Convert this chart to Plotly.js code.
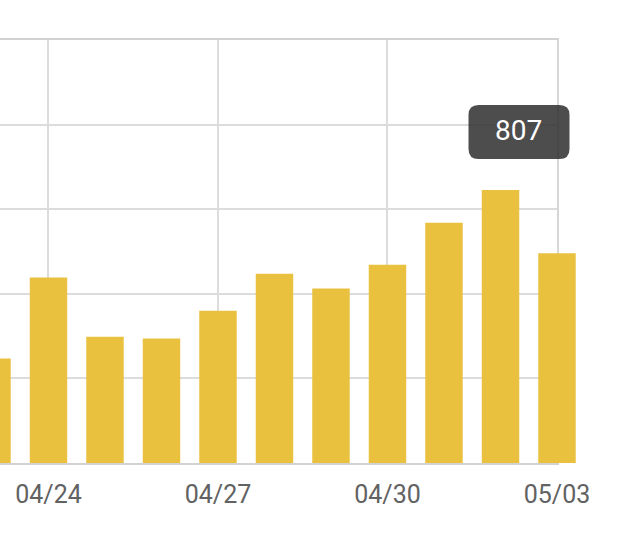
<!DOCTYPE html>
<html>
<head>
<meta charset="utf-8">
<script src="https://cdn.plot.ly/plotly-3.0.1.min.js"></script>
<style>
  html, body { margin: 0; padding: 0; background: #ffffff; }
  #chart { width: 640px; height: 545px; }
</style>
</head>
<body>
<div id="chart"></div>
<script>
// ---- data ----
const categories = ['04/23', '04/24', '04/25', '04/26', '04/27', '04/28', '04/29', '04/30', '05/01', '05/02', '05/03'];
const values     = [309, 548, 373, 368, 450, 559, 516, 586, 710, 807, 620];
const tickLabels = ['04/24', '04/27', '04/30', '05/03'];
const tooltipCategory = '05/02';
const tooltipValue = 807;

// ---- view settings ----
const xRange = [0.142, 10];
const yMax = 1250;
const barColor = '#EAC03F';
const plotWidth = 620;     // full drawing width for bars (so last bar overflows the grid box)
const gridWidthPx = 557;   // width of the grid box
const domainEnd = gridWidthPx / plotWidth;
const pxPerCat = gridWidthPx / (xRange[1] - xRange[0]);
const x2Range = [xRange[0], xRange[0] + plotWidth / pxPerCat];

// invisible trace that carries the grid subplot's categories
const gridTrace = {
  type: 'scatter', mode: 'markers',
  x: categories, y: values.map(() => null),
  xaxis: 'x', yaxis: 'y', hoverinfo: 'skip', showlegend: false
};
const barTrace = {
  type: 'bar',
  x: categories,
  y: values,
  xaxis: 'x2',
  yaxis: 'y2',
  marker: { color: barColor, line: { width: 0 } },
  hoverinfo: 'skip'
};

// tooltip anchor derived from the axis scales
const tipIdx = categories.indexOf(tooltipCategory);
const fx = (tipIdx - xRange[0]) / (xRange[1] - xRange[0]);
const fy = tooltipValue / yMax;

const r = 10, L = -32, R = 69, B = 31, T = 85;
const boxPath =
  `M ${L + r},${B} L ${R - r},${B} Q ${R},${B} ${R},${B + r} L ${R},${T - r} Q ${R},${T} ${R - r},${T} ` +
  `L ${L + r},${T} Q ${L},${T} ${L},${T - r} L ${L},${B + r} Q ${L},${B} ${L + r},${B} Z`;

const layout = {
  width: 640,
  height: 545,
  margin: { l: 0, r: 640 - plotWidth, t: 40, b: 82, pad: 0 },
  paper_bgcolor: '#ffffff',
  plot_bgcolor: 'rgba(0,0,0,0)',
  showlegend: false,
  bargap: 0.337,
  font: { family: 'Roboto, sans-serif' },
  xaxis: {
    type: 'category',
    categoryarray: categories,
    categoryorder: 'array',
    domain: [0, domainEnd],
    range: xRange,
    anchor: 'y',
    tickmode: 'array',
    tickvals: tickLabels,
    ticktext: tickLabels,
    ticks: '',
    ticklabelstandoff: 8,
    showgrid: true,
    gridcolor: '#dcdcdc',
    gridwidth: 2,
    showline: true,
    mirror: true,
    linecolor: '#d2d2d2',
    linewidth: 2,
    zeroline: false,
    tickfont: { family: 'Roboto, sans-serif', size: 25, color: '#626262' },
    fixedrange: true
  },
  yaxis: {
    anchor: 'x',
    range: [0, yMax],
    dtick: 250,
    tick0: 0,
    side: 'right',
    showticklabels: false,
    ticks: '',
    showgrid: true,
    gridcolor: '#dcdcdc',
    gridwidth: 2,
    showline: true,
    linecolor: '#d6d6d6',
    linewidth: 2,
    zeroline: false,
    fixedrange: true
  },
  xaxis2: {
    type: 'category',
    domain: [0, 1],
    range: x2Range,
    anchor: 'y2',
    categoryarray: categories,
    categoryorder: 'array',
    showgrid: false,
    showline: false,
    showticklabels: false,
    ticks: '',
    zeroline: false,
    fixedrange: true
  },
  yaxis2: {
    anchor: 'x2',
    range: [0, yMax],
    showgrid: false,
    showline: false,
    showticklabels: false,
    ticks: '',
    zeroline: false,
    fixedrange: true
  },
  shapes: [{
    type: 'path',
    xref: 'x domain',
    yref: 'y domain',
    xsizemode: 'pixel',
    ysizemode: 'pixel',
    xanchor: fx,
    yanchor: fy,
    path: boxPath,
    fillcolor: 'rgba(52,52,52,0.88)',
    line: { width: 0 },
    layer: 'above'
  }],
  annotations: [{
    x: tooltipCategory,
    y: tooltipValue,
    xref: 'x2',
    yref: 'y2',
    text: String(tooltipValue),
    showarrow: false,
    xanchor: 'center',
    yanchor: 'middle',
    xshift: 17.8,
    yshift: 59.5,
    font: { family: 'Roboto, sans-serif', size: 28, color: '#ffffff' }
  }]
};

Plotly.newPlot('chart', [gridTrace, barTrace], layout, { displayModeBar: false, staticPlot: true });
</script>
</body>
</html>
